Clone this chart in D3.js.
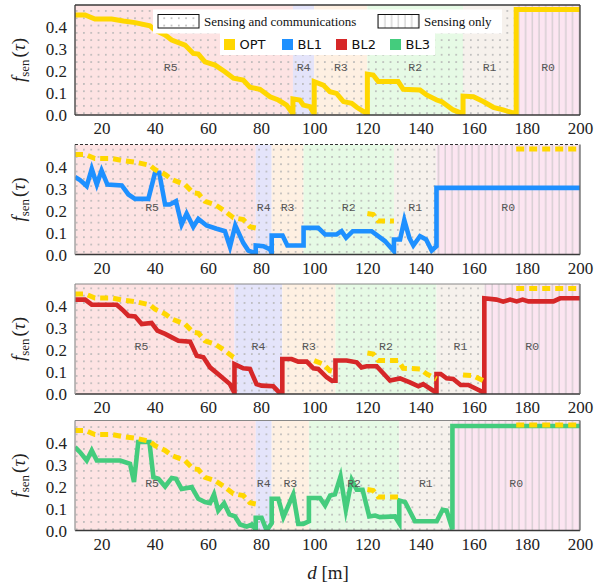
<!DOCTYPE html>
<html><head><meta charset="utf-8">
<script src="https://cdn.jsdelivr.net/npm/d3@7"></script>
<style>body{margin:0;background:#fff}</style>
</head><body>
<svg id="c" width="595" height="586" xmlns="http://www.w3.org/2000/svg"></svg>
<script>
// ---------- data ----------
const xTicks = [20,40,60,80,100,120,140,160,180,200];
const yTicks = [0,0.1,0.2,0.3,0.4];
const regionNames = ["R5","R4","R3","R2","R1","R0"];
const regionsOPT = [0,92,100,120,156,176,200];
const regionsBL1 = [0,78,84,96,130,146,200];
const regionsBL2 = [0,70,88,108,146,164,200];
const regionsBL3 = [0,78,84,98,132,152,200];
const seriesNames = ["OPT","BL1","BL2","BL3"];
const legendRow1 = ["Sensing and communications","Sensing only"];

const OPT = [[10,0.455],[13.8,0.455],[17.5,0.436],[23.8,0.436],[28.2,0.427],[32.6,0.42],[38.2,0.405],[40.1,0.386],[43.9,0.364],[46.4,0.341],[51.4,0.318],[54.5,0.28],[56.4,0.277],[58.9,0.242],[62.7,0.227],[66.4,0.197],[69.6,0.167],[73.3,0.159],[75.8,0.126],[79.6,0.117],[83.4,0.083],[86.5,0.068],[89.6,0.045],[92,0.005],
 [92,0.073],[94.6,0.068],[95.9,0.045],[98.4,0.038],[100,0.005],
 [100,0.152],[103.4,0.136],[105.9,0.106],[108.4,0.098],[111,0.061],[114.1,0.053],[116,0.035],[120,0.005],
 [120,0.186],[122.2,0.182],[124.1,0.152],[131.6,0.152],[133.5,0.117],[139.8,0.114],[142.3,0.091],[146.1,0.068],[147.9,0.061],[152.3,0.023],[156,0.005],
 [156,0.086],[159.9,0.083],[163.6,0.061],[167.4,0.035],[171.1,0.023],[176,0.005],
 [176,0.48],[200,0.48]];

const BL1 = [[10,0.352],[11.9,0.338],[14.4,0.311],[16.3,0.389],[18.2,0.318],[20,0.382],[22.2,0.318],[27.6,0.314],[30.1,0.273],[32.6,0.253],[37.6,0.253],[40.1,0.371],[41.7,0.371],[43.9,0.227],[45.7,0.227],[48,0.242],[50.1,0.136],[52,0.186],[54.5,0.126],[56.4,0.162],[59.5,0.132],[63.3,0.117],[66.4,0.106],[68.3,0.035],[70.3,0.132],[73.3,0.053],[75.2,0.018],[78,0.005],
 [78,0.041],[80.9,0.038],[83.4,0.023],[84,0.005],
 [84,0.086],[88.1,0.086],[89.9,0.041],[96,0.041],
 [96,0.121],[101.5,0.121],[104.1,0.091],[108.4,0.091],[110.3,0.106],[112,0.076],[114.5,0.106],[121.6,0.106],[126.6,0.061],[130,0.015],
 [130,0.068],[132.3,0.068],[133.9,0.156],[135.8,0.076],[137.3,0.041],[139.8,0.083],[142.1,0.068],[144.2,0.018],[146,0.038],
 [146,0.303],[200,0.303]];

const BL2 = [[10,0.429],[13.8,0.429],[16.3,0.406],[25.7,0.406],[28.2,0.379],[30.1,0.356],[32.6,0.353],[35.1,0.318],[38.8,0.323],[41,0.288],[43.9,0.273],[45.7,0.262],[48.9,0.242],[53.3,0.238],[55.8,0.174],[58.3,0.167],[60.8,0.121],[64.6,0.083],[68.3,0.045],[70,0.005],
 [70,0.136],[73.3,0.117],[75.8,0.114],[78.3,0.045],[80.2,0.038],[84.6,0.035],[87,0.005],[88,0.005],
 [88,0.159],[91.5,0.159],[94,0.147],[97.2,0.147],[99.7,0.117],[101.5,0.114],[104.7,0.076],[106.6,0.061],[108,0.061],
 [108,0.152],[112.2,0.152],[116,0.144],[117.8,0.121],[119.7,0.126],[123.5,0.126],[128.5,0.061],[132.3,0.071],[136,0.053],[139.2,0.035],[141,0.045],[144.8,0.015],[146,0.005],
 [146,0.091],[147.6,0.091],[149.8,0.071],[152.3,0.068],[155.1,0.041],[158,0.041],[161.1,0.023],[164,0.005],
 [164,0.435],[168.6,0.429],[171.1,0.42],[173.7,0.429],[176.2,0.421],[178.4,0.429],[180.6,0.421],[190,0.421],[192.5,0.435],[200,0.435]];

const BL3 = [[10,0.379],[11.9,0.356],[14.4,0.318],[16.3,0.364],[18.2,0.318],[27,0.318],[30.7,0.303],[32.2,0.22],[33.8,0.402],[38,0.402],[39.5,0.242],[41.4,0.235],[43.9,0.2],[46.4,0.239],[48,0.235],[50.1,0.189],[53.9,0.197],[56.4,0.144],[58.9,0.129],[60.8,0.124],[62.3,0.164],[63.9,0.091],[66.1,0.124],[68.1,0.073],[70.2,0.064],[72.1,0.027],[74.6,0.018],[76.5,0.027],[78,0.005],
 [78,0.058],[80.2,0.058],[82.1,0.0],[84,0.033],
 [84,0.144],[86.5,0.144],[88.4,0.061],[92.1,0.164],[94,0.03],[95.9,0.03],[98,0.042],
 [98,0.148],[102.2,0.148],[104.1,0.114],[106,0.159],[107.8,0.164],[109.9,0.245],[111.9,0.094],[114.1,0.23],[116,0.185],[118.2,0.185],[120.7,0.064],[122.9,0.068],[124.7,0.061],[130.4,0.064],[132,0.033],
 [132,0.136],[134.2,0.129],[137.9,0.042],[146.1,0.042],[148.3,0.094],[149.8,0.091],[152,0.005],
 [152,0.475],[200,0.475]];

// ---------- styling ----------
const colors = {OPT:"#FFD700", BL1:"#1E90FF", BL2:"#D62728", BL3:"#44CC7D"};
const regionFill = ["#fde3e3","#e4e4fa","#fef0e2","#e6fae5","#f6f1ec","#fce5f1"];
const W = 595, H = 586;
const left = 75, right = 580, panelH = 110;
const tops = [5, 144.5, 284, 420.5];

const svg = d3.select("#c");
const defs = svg.append("defs");
const dots = defs.append("pattern").attr("id","dots").attr("patternUnits","userSpaceOnUse")
  .attr("width",7.3).attr("height",7.3);
dots.append("circle").attr("cx",3.6).attr("cy",3.6).attr("r",0.95).attr("fill","#b4b4b4");
const vl = defs.append("pattern").attr("id","vlines").attr("patternUnits","userSpaceOnUse")
  .attr("width",6.7).attr("height",10);
vl.append("line").attr("x1",3).attr("x2",3).attr("y1",0).attr("y2",10).attr("stroke","#c4c4c4").attr("stroke-width",1);

const x = d3.scaleLinear().domain([10,200]).range([left,right]);

function subSeg(data, lo, hi){
  const out=[];
  // start
  let i = -1;
  for(let k=0;k<data.length;k++){ if(data[k][0]<=lo) i=k; }
  if(i>=0){
    if(data[i][0]===lo) out.push(data[i]);
    else if(i+1<data.length){
      const a=data[i],b=data[i+1],t=(lo-a[0])/(b[0]-a[0]);
      out.push([lo,a[1]+t*(b[1]-a[1])]);
    }
  }
  data.forEach(p=>{ if(p[0]>lo && p[0]<hi) out.push(p); });
  let j=-1;
  for(let k=0;k<data.length;k++){ if(data[k][0]>=hi){ j=k; break; } }
  if(j>=0){
    if(data[j][0]===hi) out.push(data[j]);
    else { const a=data[j-1],b=data[j],t=(hi-a[0])/(b[0]-a[0]); out.push([hi,a[1]+t*(b[1]-a[1])]); }
  }
  return out;
}

const panels = [
  {name:"OPT", data:OPT, reg:regionsOPT},
  {name:"BL1", data:BL1, reg:regionsBL1},
  {name:"BL2", data:BL2, reg:regionsBL2},
  {name:"BL3", data:BL3, reg:regionsBL3}
];

panels.forEach((p,pi)=>{
  const top = tops[pi], bot = top+panelH;
  const y = d3.scaleLinear().domain([0,0.5]).range([bot,top]);
  const g = svg.append("g");
  const cid = "clip"+pi;
  defs.append("clipPath").attr("id",cid).append("rect")
    .attr("x",left).attr("y",top).attr("width",right-left).attr("height",panelH);
  const pg = g.append("g").attr("clip-path",`url(#${cid})`);
  // regions
  regionNames.forEach((rn,ri)=>{
    const x0 = Math.max(x(p.reg[ri]),left), x1 = x(p.reg[ri+1]);
    pg.append("rect").attr("x",x0).attr("y",top).attr("width",x1-x0).attr("height",panelH).attr("fill",regionFill[ri]);
    pg.append("rect").attr("x",x0).attr("y",top).attr("width",x1-x0).attr("height",panelH)
      .attr("fill", ri===5 ? "url(#vlines)" : "url(#dots)");
  });
  // region labels
  regionNames.forEach((rn,ri)=>{
    const cx = x((p.reg[ri]+p.reg[ri+1])/2);
    g.append("text").attr("x",cx).attr("y",y(0.2)).attr("text-anchor","middle")
      .attr("font-family","Liberation Mono, DejaVu Sans Mono, monospace").attr("font-size",11.5)
      .attr("fill","#555").text(rn);
  });
  const line = d3.line().x(d=>x(d[0])).y(d=>y(d[1]));
  pg.append("path").attr("d",line(p.data)).attr("fill","none")
    .attr("stroke",colors[p.name]).attr("stroke-width", pi===0?5:4.6).attr("stroke-linejoin","miter").attr("stroke-miterlimit",6);
  if(pi>0){
    for(let ri=0; ri<6; ri++){
      const lo = Math.max(p.reg[ri], regionsOPT[ri], 10), hi = Math.min(p.reg[ri+1], regionsOPT[ri+1]);
      if(hi>lo){
        pg.append("path").attr("d",line(subSeg(OPT,lo,hi))).attr("fill","none")
          .attr("stroke",colors.OPT).attr("stroke-width",5).attr("stroke-dasharray","8,5");
      }
    }
  }
  // frame
  const dark = "#3a3a3a";
  g.append("line").attr("x1",left).attr("x2",right).attr("y1",bot).attr("y2",bot).attr("stroke",dark).attr("stroke-width",1.4);
  g.append("line").attr("x1",right).attr("x2",right).attr("y1",top).attr("y2",bot).attr("stroke",pi===0?dark:"#666").attr("stroke-width",1.3);
  g.append("line").attr("x1",left).attr("x2",left).attr("y1",top).attr("y2",bot).attr("stroke",pi===0?dark:"#9a9a9a").attr("stroke-width",1.3);
  g.append("line").attr("x1",left).attr("x2",right).attr("y1",top).attr("y2",top)
    .attr("stroke",pi===0?dark:(pi===1?"#333":"#888")).attr("stroke-width",pi===0?1.4:1.1)
    .attr("stroke-dasharray",pi===1?"3,2":null);
  // ticks
  const xa = g.append("g").attr("transform",`translate(0,${bot})`)
    .call(d3.axisBottom(x).tickValues(xTicks).tickSize(0).tickPadding(0).tickFormat(d3.format("d")));
  xa.select(".domain").remove();
  xa.selectAll("text").attr("dy",null).attr("y",19).attr("font-family","Liberation Serif, serif").attr("font-size",17).attr("fill","#222");
  const ya = g.append("g").attr("transform",`translate(${left},0)`)
    .call(d3.axisLeft(y).tickValues(yTicks).tickSize(0).tickPadding(8).tickFormat(d3.format(".1f")));
  ya.select(".domain").remove();
  ya.selectAll("text").attr("dy","0.34em").attr("font-family","Liberation Serif, serif").attr("font-size",17).attr("fill","#222");
  // y label
  const yl = svg.append("text").attr("transform",`translate(25,${top+panelH/2}) rotate(-90)`)
    .attr("text-anchor","middle").attr("font-family","Liberation Serif, serif").attr("font-size",19).attr("fill","#222");
  yl.append("tspan").attr("font-style","italic").text("f");
  yl.append("tspan").attr("font-size",13).attr("dy",4).text("sen");
  yl.append("tspan").attr("dy",-4).attr("dx",2).text("(");
  yl.append("tspan").attr("font-style","italic").text("τ");
  yl.append("tspan").text(")");
});

// x label
const xl = svg.append("text").attr("x",328).attr("y",579).attr("text-anchor","middle")
  .attr("font-family","Liberation Serif, serif").attr("font-size",19).attr("fill","#222");
xl.append("tspan").attr("font-style","italic").text("d");
xl.append("tspan").text(" [m]");

// legend row 1
const lg = svg.append("g");
lg.append("rect").attr("x",153).attr("y",9.5).attr("width",349).attr("height",24).attr("fill","#fff");
lg.append("rect").attr("x",220).attr("y",33).attr("width",215).attr("height",22).attr("fill","#fff");
[[158,"url(#dots)",204],[378,"url(#vlines)",424]].forEach((s,i)=>{
  lg.append("rect").attr("x",s[0]).attr("y",14.5).attr("width",41).attr("height",13.5).attr("fill","#fff");
  lg.append("rect").attr("x",s[0]).attr("y",14.5).attr("width",41).attr("height",13.5).attr("fill",s[1])
    .attr("stroke","#111").attr("stroke-width",1);
  lg.append("text").attr("x",s[2]).attr("y",25.5).attr("font-family","Liberation Serif, serif").attr("font-size",13)
    .attr("fill","#111").text(legendRow1[i]);
});
const legX = [224,282,336,390];
seriesNames.forEach((s,i)=>{
  lg.append("rect").attr("x",legX[i]).attr("y",39).attr("width",11).attr("height",11).attr("fill",colors[s]);
  lg.append("text").attr("x",legX[i]+15.5).attr("y",49).attr("font-family","DejaVu Sans, sans-serif").attr("font-size",13)
    .attr("fill","#111").text(s);
});
</script>
</body></html>
